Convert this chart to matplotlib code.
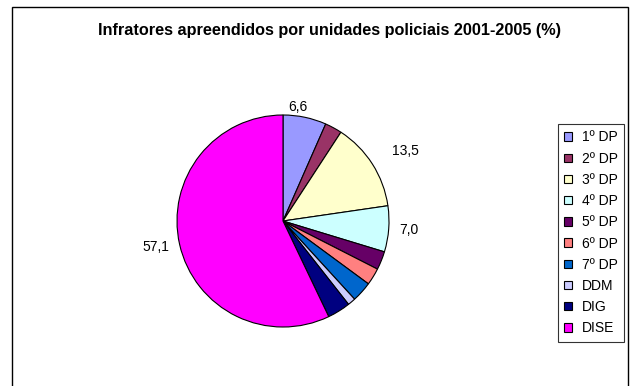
import matplotlib
matplotlib.use('Agg')
import matplotlib.pyplot as plt
from matplotlib.patches import Patch, Rectangle
import numpy as np

plt.rcParams['font.family'] = ['Liberation Sans', 'DejaVu Sans']

# ── Dados ────────────────────────────────────────────────────────────────────
unidades = ['1º DP', '2º DP', '3º DP', '4º DP', '5º DP', '6º DP', '7º DP',
            'DDM', 'DIG', 'DISE']
percent  = [6.6, 2.6, 13.5, 7.0, 2.8, 2.6, 3.1, 1.2, 3.5, 57.1]
rotulos  = ['6,6', '', '13,5', '7,0', '', '', '', '', '', '57,1']
cores    = ['#9999FF', '#993366', '#FFFFCC', '#CCFFFF', '#660066',
            '#FF8080', '#0066CC', '#CCCCFF', '#000080', '#FF00FF']

# posição dos rótulos: distância radial e alinhamento horizontal
dist_rot = [1.10, 0, 1.22, 1.10, 0, 0, 0, 0, 0, 1.10]
alin_rot = ['right', '', 'left', 'left', '', '', '', '', '', 'right']

W, H = 630, 386
fig = plt.figure(figsize=(W / 100, H / 100), dpi=100)

# moldura da área do gráfico (aberta em baixo)
fig.add_artist(Rectangle((12 / W, -0.05), 616 / W, 1.05 - 7 / H,
                         transform=fig.transFigure, fill=False,
                         edgecolor='black', lw=1.0))

fig.text(330 / W, 1 - 30 / H,
         'Infratores apreendidos por unidades policiais 2001-2005 (%)',
         ha='center', va='center', fontsize=11.7, fontweight='bold')

# pizza: centro (283, 221) px, raio 106 px
cx, cy, r = 283, 221, 106
ax = fig.add_axes([(cx - r) / W, 1 - (cy + r) / H, 2 * r / W, 2 * r / H])
wedges, _ = ax.pie(percent, colors=cores, startangle=90, counterclock=False,
                   wedgeprops=dict(edgecolor='black', linewidth=0.8))
ax.set_xlim(-1, 1)
ax.set_ylim(-1, 1)
ax.set_aspect('equal')
ax.axis('off')

for w, txt, d, ha in zip(wedges, rotulos, dist_rot, alin_rot):
    if not txt:
        continue
    ang = np.deg2rad((w.theta1 + w.theta2) / 2)
    ax.text(d * np.cos(ang), d * np.sin(ang), txt, ha=ha, va='center',
            fontsize=10, clip_on=False)

handles = [Patch(facecolor=c, edgecolor='black', lw=0.8) for c in cores]
leg = fig.legend(handles, unidades, loc='upper left',
                 bbox_to_anchor=(558 / W, 1 - 124 / H), fontsize=10,
                 frameon=True, fancybox=False, borderaxespad=0,
                 handlelength=0.55, handleheight=0.55, handletextpad=0.7,
                 labelspacing=0.52, borderpad=0.46)
leg.get_frame().set_edgecolor('black')
leg.get_frame().set_linewidth(0.8)

fig.savefig('out.png', dpi=100)
